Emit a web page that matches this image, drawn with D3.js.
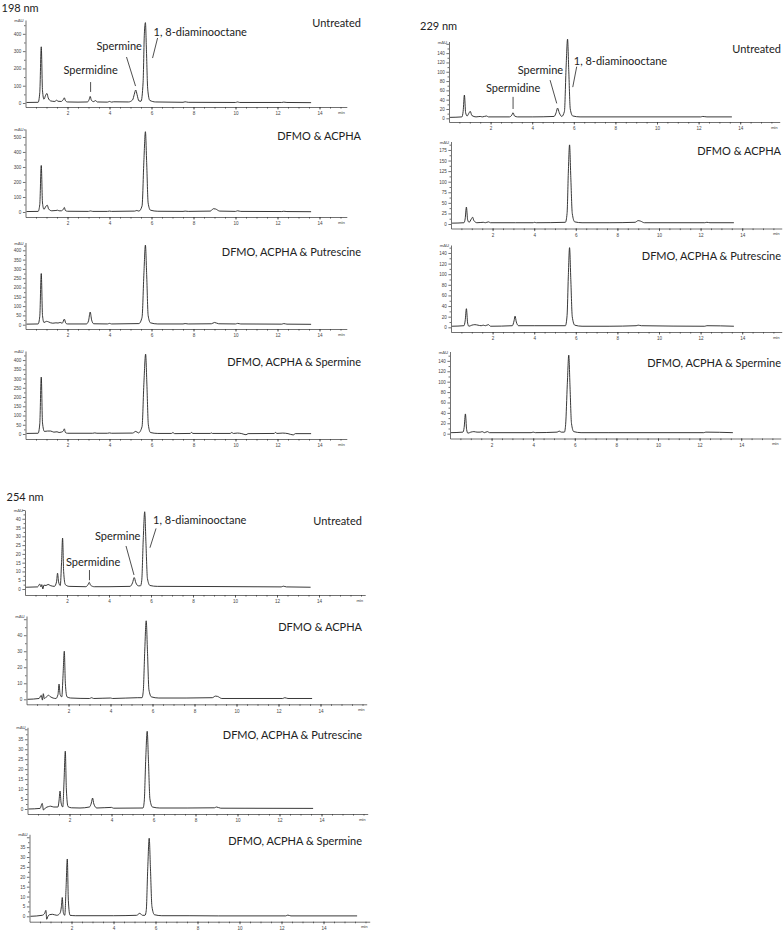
<!DOCTYPE html>
<html>
<head>
<meta charset="utf-8">
<script src="https://cdn.jsdelivr.net/npm/d3@7"></script>
<style>
  body { margin: 0; background: #fff; }
  svg { display: block; font-family: Lato, "Open Sans", sans-serif; }
  .axis path, .axis line { stroke: #333; stroke-width: 0.7; }
  .axis text { font-size: 4.6px; fill: #444; font-family: "Liberation Sans", Arial, sans-serif; }
</style>
</head>
<body>
<div id="container"></div>
<script>
const WIDTH = 784;
const HEIGHT = 947;

const wavelengths = ["198 nm", "229 nm", "254 nm"];
const sampleLabels = ["Untreated", "DFMO & ACPHA", "DFMO, ACPHA & Putrescine", "DFMO, ACPHA & Spermine"];
const peakNames = ["Spermidine", "Spermine", "1, 8-diaminooctane"];
const timeTicks = [2, 4, 6, 8, 10, 12, 14];

// [retention time (min), absorbance (mAU)]
const trace198Untreated = [[0.05,3],[0.6,4],[0.68,60],[0.75,325],[0.81,70],[0.88,22],[0.96,45],[1.02,55],[1.08,30],[1.2,12],[1.4,9],[1.48,16],[1.55,10],[1.7,9],[1.8,20],[1.85,30],[1.9,14],[2.0,6],[2.5,5],[2.95,6],[3.03,20],[3.08,38],[3.14,15],[3.25,8],[3.33,14],[3.42,6],[3.9,5],[4.0,9],[4.1,5],[4.2,7],[4.9,6],[5.1,18],[5.18,50],[5.25,75],[5.31,50],[5.4,12],[5.5,10],[5.6,120],[5.66,400],[5.71,465],[5.76,300],[5.82,80],[5.92,15],[6.2,6],[7.5,4],[7.6,7],[7.75,4],[10.0,3],[10.1,6],[10.2,3],[12.2,3],[12.3,5],[12.45,3],[13.6,2]];
const trace198Acpha = [[0.05,3],[0.6,4],[0.68,50],[0.75,310],[0.81,60],[0.88,18],[0.98,40],[1.04,45],[1.1,20],[1.25,8],[1.45,10],[1.52,12],[1.6,8],[1.7,8],[1.8,18],[1.85,30],[1.9,10],[2.0,5],[3.0,4],[3.1,7],[3.2,4],[3.9,4],[4.0,6],[4.1,4],[5.2,6],[5.3,10],[5.4,6],[5.55,40],[5.64,350],[5.71,535],[5.77,330],[5.84,60],[5.95,12],[6.3,5],[7.5,4],[7.6,6],[7.75,4],[8.8,6],[8.95,22],[9.05,20],[9.25,6],[10.0,4],[10.1,8],[10.25,4],[12.2,3],[12.3,5],[12.45,3],[13.6,2]];
const trace198Putrescine = [[0.05,3],[0.6,4],[0.68,45],[0.75,275],[0.81,50],[0.88,12],[1.0,18],[1.1,15],[1.2,10],[1.3,8],[1.45,10],[1.55,9],[1.65,12],[1.75,8],[1.85,30],[1.92,8],[2.0,4],[2.9,4],[3.0,20],[3.08,68],[3.15,25],[3.25,5],[3.9,4],[4.0,7],[4.1,4],[5.4,6],[5.55,40],[5.64,280],[5.71,428],[5.77,270],[5.84,50],[5.95,10],[6.3,4],[7.5,4],[7.6,6],[7.75,4],[8.85,5],[9.0,12],[9.2,5],[10.0,4],[10.1,7],[10.25,4],[12.2,3],[12.3,6],[12.45,3],[13.6,2]];
const trace198Spermine = [[0.05,3],[0.6,4],[0.68,55],[0.75,308],[0.81,60],[0.9,14],[1.05,16],[1.2,16],[1.35,10],[1.5,12],[1.6,8],[1.7,10],[1.8,16],[1.85,28],[1.9,8],[2.0,4],[3.2,4],[3.3,6],[3.4,4],[3.9,4],[4.0,6],[4.1,4],[5.1,5],[5.25,14],[5.38,6],[5.55,40],[5.64,280],[5.72,432],[5.78,270],[5.85,50],[5.95,8],[6.3,3],[6.95,3],[7.02,8],[7.1,2],[7.85,3],[7.9,9],[7.97,3],[8.8,3],[8.85,6],[8.9,3],[9.75,3],[9.82,8],[9.9,3],[10.1,5],[10.3,2],[10.5,-4],[10.6,2],[11.85,3],[11.9,9],[11.97,3],[12.25,5],[12.5,2],[12.75,-5],[12.85,2],[13.6,2]];

const trace229Untreated = [[0.05,2],[0.62,3],[0.68,15],[0.74,50],[0.8,12],[0.87,5],[0.97,12],[1.02,15],[1.1,6],[1.3,3],[1.5,4],[1.6,3],[1.8,5],[1.9,3],[2.9,3],[3.02,7],[3.08,12],[3.15,5],[3.3,3],[4.0,3],[5.05,4],[5.15,12],[5.22,22],[5.3,12],[5.42,4],[5.55,15],[5.63,110],[5.7,170],[5.76,100],[5.83,20],[5.95,5],[6.3,3],[12.1,3],[12.2,4],[12.4,3],[13.6,3]];
const trace229Acpha = [[0.05,2],[0.62,3],[0.68,12],[0.74,40],[0.8,10],[0.87,4],[0.98,12],[1.04,16],[1.1,8],[1.25,3],[1.55,4],[1.65,3],[1.8,5],[1.9,3],[3.1,3],[3.95,3],[4.0,4],[4.1,3],[5.5,4],[5.58,25],[5.64,120],[5.7,187],[5.76,110],[5.83,25],[5.95,5],[6.3,3],[7.6,3],[8.85,4],[9.0,8],[9.1,7],[9.3,3],[12.2,3],[12.3,4],[12.45,3],[13.6,3]];
const trace229Putrescine = [[0.05,2],[0.62,3],[0.68,12],[0.74,35],[0.8,8],[0.86,2],[1.0,4],[1.15,5],[1.3,4],[1.45,3],[1.55,4],[1.65,3],[1.8,5],[1.9,2],[2.95,3],[3.03,12],[3.08,21],[3.14,10],[3.25,3],[4.0,3],[5.5,3],[5.58,22],[5.64,95],[5.7,150],[5.76,90],[5.83,20],[5.95,4],[6.3,2],[7.6,2],[8.9,3],[9.0,4],[9.15,3],[12.2,2],[12.3,3],[13.6,2]];
const trace229Spermine = [[0.05,2],[0.62,3],[0.68,12],[0.74,38],[0.8,8],[0.86,1],[1.0,3],[1.15,4],[1.3,3],[1.45,3],[1.55,4],[1.65,2],[1.8,4],[1.9,2],[3.9,2],[4.0,3],[4.1,2],[5.15,3],[5.25,5],[5.35,3],[5.5,3],[5.56,18],[5.64,95],[5.71,151],[5.77,90],[5.84,20],[5.95,4],[6.3,2],[7.6,2],[12.2,2],[12.3,3],[13.6,2]];

const trace254Untreated = [[0.05,1],[0.6,1.2],[0.7,2.8],[0.76,1.2],[0.8,2.5],[0.85,0],[0.9,2.2],[1.0,2],[1.1,2.6],[1.2,2],[1.4,1.5],[1.5,4],[1.55,9],[1.6,4],[1.68,2],[1.74,15],[1.79,29],[1.84,10],[1.92,2.5],[2.1,1.5],[2.9,1.3],[3.0,2.5],[3.06,3.8],[3.12,2.2],[3.3,1.3],[4.0,1.3],[5.0,1.5],[5.12,3.5],[5.2,6.5],[5.28,3.5],[5.4,1.8],[5.5,1.8],[5.56,5],[5.63,28],[5.7,44],[5.76,26],[5.83,6],[5.95,2],[6.3,1.5],[9.0,1.4],[12.2,1.2],[12.3,1.6],[12.45,1.2],[13.6,1]];
const trace254Acpha = [[0.05,0],[0.6,0.5],[0.7,2.5],[0.76,-0.5],[0.8,3.5],[0.85,0.5],[0.95,1.5],[1.05,2.5],[1.15,1.5],[1.4,0.5],[1.5,3],[1.55,9.5],[1.6,3],[1.68,1.5],[1.74,15],[1.8,30],[1.85,10],[1.93,1.5],[2.1,0.8],[3.0,0.5],[3.1,1],[3.2,0.5],[4.0,0.8],[4.1,0.5],[5.3,1],[5.5,1],[5.56,5],[5.63,30],[5.7,49],[5.76,30],[5.83,6],[5.95,1.5],[6.3,0.8],[7.6,0.8],[8.85,1],[9.0,2],[9.1,1.8],[9.3,0.5],[12.2,0.5],[12.3,1],[12.45,0.5],[13.6,0.5]];
const trace254Putrescine = [[0.05,0],[0.6,0.3],[0.7,2.8],[0.76,-0.5],[0.85,0.5],[1.0,1.2],[1.1,1.4],[1.25,1],[1.45,1],[1.5,4],[1.55,9],[1.6,3],[1.68,1],[1.74,14],[1.8,29],[1.85,10],[1.93,1.2],[2.1,0.6],[2.5,0.5],[2.95,1],[3.04,3],[3.1,5.5],[3.16,2.5],[3.3,0.5],[4.0,0.8],[4.1,0.4],[5.5,0.5],[5.56,4],[5.63,25],[5.7,39],[5.76,24],[5.83,5],[5.95,1],[6.3,0.5],[7.6,0.5],[8.9,0.6],[9.0,1],[9.2,0.4],[13.6,0.3]];
const trace254Spermine = [[0.05,0],[0.6,0.5],[0.72,1.5],[0.78,3],[0.82,-1.5],[0.88,0],[0.95,0.8],[1.1,1],[1.3,0.5],[1.45,1.5],[1.52,5],[1.56,9.5],[1.61,2],[1.68,0.5],[1.74,14],[1.8,29],[1.85,8],[1.93,0.5],[2.2,0.3],[4.0,0.3],[5.1,0.5],[5.25,1.5],[5.38,0.5],[5.5,0.5],[5.56,3],[5.63,24],[5.7,39.5],[5.76,24],[5.83,5],[5.95,0.8],[6.3,0.3],[7.6,0.3],[9.0,0.2],[12.2,0.2],[12.3,0.6],[12.45,0.2],[15.6,0.2]];

// annotations on the untreated runs, in data units: text [t, mAU], leader [t1, v1, t2, v2]
const notes198 = [
  { text: [1.81, 191], lead: [3.1, 121, 3.1, 64] },
  { text: [3.38, 330], lead: [4.81, 266, 5.24, 98] },
  { text: [6.1, 412], lead: [6.29, 376, 6.05, 260] }
];
const notes229 = [
  { text: [1.78, 66], lead: [3.08, 46, 3.08, 20] },
  { text: [3.3, 104], lead: [4.86, 82, 5.18, 32] },
  { text: [6.0, 125], lead: [6.14, 111, 5.95, 67] }
];
const notes254 = [
  { text: [1.95, 15.7], lead: [3.07, 10.8, 3.07, 5] },
  { text: [3.33, 30.5], lead: [4.81, 24.5, 5.19, 8] },
  { text: [6.1, 39.5], lead: [6.24, 34.5, 5.95, 23.5] }
];

// panel geometry (pixels)
const panels = [
  { trace: trace198Untreated, s: 0, notes: notes198, left: 25.5, top: 20, zero: 103, axisY: 107, yMax: 480, step: 100, tEnd: 15.3, ppm: 21, labelX: 361, labelY: 22 },
  { trace: trace198Acpha, s: 1, left: 25.5, top: 129, zero: 212, axisY: 217, yMax: 553, step: 100, tEnd: 15.3, ppm: 21, labelX: 361, labelY: 135 },
  { trace: trace198Putrescine, s: 2, left: 25.5, top: 242.5, zero: 324.7, axisY: 329, yMax: 442, step: 50, tEnd: 15.3, ppm: 21, labelX: 361, labelY: 251.5 },
  { trace: trace198Spermine, s: 3, left: 25.5, top: 351, zero: 434, axisY: 439, yMax: 449, step: 50, tEnd: 15.3, ppm: 21, labelX: 361, labelY: 361.5 },
  { trace: trace229Untreated, s: 0, notes: notes229, left: 449, top: 41.5, zero: 118.3, axisY: 122, yMax: 165, step: 20, tEnd: 15.9, ppm: 20.8, labelX: 781, labelY: 48 },
  { trace: trace229Acpha, s: 1, left: 451, top: 141.5, zero: 224, axisY: 228.5, yMax: 195, step: 25, tEnd: 15.9, ppm: 20.8, labelX: 781, labelY: 150 },
  { trace: trace229Putrescine, s: 2, left: 451, top: 245, zero: 327.3, axisY: 332, yMax: 155, step: 20, tEnd: 15.9, ppm: 20.8, labelX: 781, labelY: 255 },
  { trace: trace229Spermine, s: 3, left: 450, top: 351.5, zero: 433.7, axisY: 438.5, yMax: 158, step: 20, tEnd: 15.9, ppm: 20.8, labelX: 781, labelY: 362.5 },
  { trace: trace254Untreated, s: 0, notes: notes254, left: 25, top: 510, zero: 589, axisY: 595, yMax: 45, step: 5, tEnd: 16.2, ppm: 21, labelX: 362, labelY: 520 },
  { trace: trace254Acpha, s: 1, left: 26.5, top: 616, zero: 699.3, axisY: 704.3, yMax: 52, step: 10, tEnd: 16.2, ppm: 21, labelX: 362, labelY: 626.5 },
  { trace: trace254Putrescine, s: 2, left: 27.5, top: 727.3, zero: 809, axisY: 814, yMax: 41, step: 5, tEnd: 16.2, ppm: 21, labelX: 362, labelY: 734 },
  { trace: trace254Spermine, s: 3, left: 29.5, top: 834.3, zero: 916.3, axisY: 921.7, yMax: 41.5, step: 5, tEnd: 16.2, ppm: 21, labelX: 362, labelY: 840.5 }
];

const titles = [
  { text: wavelengths[0], x: 1.5, y: 7 },
  { text: wavelengths[1], x: 420, y: 25 },
  { text: wavelengths[2], x: 6.5, y: 496 }
];

const svg = d3
  .select("div#container")
  .append("svg")
  .attr("width", WIDTH)
  .attr("height", HEIGHT);

svg
  .selectAll("text.title")
  .data(titles)
  .enter()
  .append("text")
  .attr("class", "title")
  .attr("x", (d) => d.x)
  .attr("y", (d) => d.y)
  .attr("dominant-baseline", "central")
  .style("font-size", "11px")
  .style("fill", "#222")
  .text((d) => d.text);

panels.forEach((p) => {
  const k = (p.zero - p.top) / p.yMax;
  const yMin = -(p.axisY - p.zero) / k;
  const xScale = d3
    .scaleLinear()
    .domain([0, p.tEnd])
    .range([p.left, p.left + p.tEnd * p.ppm]);
  const yScale = d3.scaleLinear().domain([yMin, p.yMax]).range([p.axisY, p.top]);
  const g = svg.append("g");

  // x axis: minor then labelled ticks
  g.append("g")
    .attr("class", "axis")
    .attr("transform", `translate(0, ${p.axisY})`)
    .call(
      d3.axisBottom(xScale)
        .tickValues(d3.range(0.5, p.tEnd, 0.5))
        .tickSize(1.6)
        .tickSizeOuter(0)
        .tickFormat("")
    );
  g.append("g")
    .attr("class", "axis")
    .attr("transform", `translate(0, ${p.axisY})`)
    .call(d3.axisBottom(xScale).tickValues(timeTicks).tickSize(2.6).tickSizeOuter(0).tickPadding(2.5))
    .select(".domain")
    .remove();

  g.append("text")
    .attr("x", xScale(p.tEnd) - 2)
    .attr("y", p.axisY + 6.5)
    .attr("text-anchor", "end")
    .style("font-size", "4.2px")
    .style("fill", "#444")
    .text("min");

  // y axis
  const yTicks = d3.range(0, p.yMax + 0.001, p.step);
  g.append("g")
    .attr("class", "axis")
    .attr("transform", `translate(${p.left}, 0)`)
    .call(
      d3.axisLeft(yScale)
        .tickValues(d3.range(p.step / 2, p.yMax, p.step))
        .tickSize(1.5)
        .tickSizeOuter(0)
        .tickFormat("")
    );
  g.append("g")
    .attr("class", "axis")
    .attr("transform", `translate(${p.left}, 0)`)
    .call(
      d3.axisLeft(yScale)
        .tickValues(yTicks)
        .tickSize(2.6)
        .tickSizeOuter(0)
        .tickPadding(1.5)
        .tickFormat((v) => (yScale(v) - p.top < 6 ? "" : v))
    )
    .select(".domain")
    .remove();

  g.append("text")
    .attr("x", p.left - 2)
    .attr("y", p.top + 2)
    .attr("text-anchor", "end")
    .style("font-size", "4.2px")
    .style("fill", "#444")
    .text("mAU");

  g.append("path")
    .datum(p.trace)
    .attr("fill", "none")
    .attr("stroke", "#222")
    .attr("stroke-width", 0.9)
    .attr("stroke-linejoin", "round")
    .attr(
      "d",
      d3
        .line()
        .x((d) => xScale(d[0]))
        .y((d) => yScale(d[1]))
        .curve(d3.curveMonotoneX)
    );

  g.append("text")
    .attr("x", p.labelX)
    .attr("y", p.labelY)
    .attr("text-anchor", "end")
    .attr("dominant-baseline", "central")
    .style("font-size", "11px")
    .style("fill", "#222")
    .text(sampleLabels[p.s]);

  if (p.notes) {
    p.notes.forEach((n, i) => {
      g.append("text")
        .attr("x", xScale(n.text[0]))
        .attr("y", yScale(n.text[1]))
        .attr("dominant-baseline", "central")
        .style("font-size", "11px")
        .style("fill", "#222")
        .text(peakNames[i]);
      g.append("line")
        .attr("x1", xScale(n.lead[0]))
        .attr("y1", yScale(n.lead[1]))
        .attr("x2", xScale(n.lead[2]))
        .attr("y2", yScale(n.lead[3]))
        .attr("stroke", "#222")
        .attr("stroke-width", 0.8);
    });
  }
});
</script>
</body>
</html>
